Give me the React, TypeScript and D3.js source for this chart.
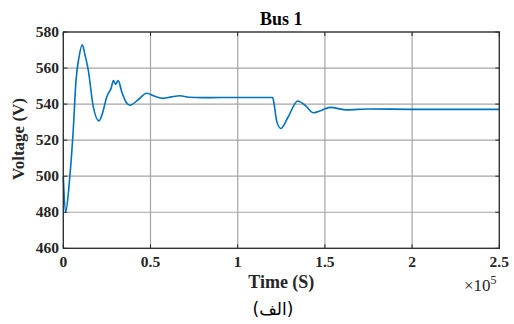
import React from "react";
import * as d3 from "d3";

// time in units of 1e5 s, voltage in V
const timeVals = [0, 0.013, 0.035, 0.057, 0.073, 0.09, 0.109, 0.125, 0.143, 0.172, 0.205, 0.225, 0.249, 0.275, 0.287, 0.3, 0.315, 0.335, 0.36, 0.382, 0.43, 0.478, 0.52, 0.573, 0.62, 0.669, 0.72, 0.8, 1.0, 1.2, 1.204, 1.225, 1.248, 1.29, 1.344, 1.39, 1.434, 1.48, 1.529, 1.625, 1.75, 2.0, 2.5];
const voltVals = [500, 480, 497, 525.6, 553.3, 566, 572.9, 567, 559, 538.5, 530.7, 535, 544, 549, 553, 551, 553, 546.8, 541, 539.4, 542.5, 546, 544.5, 543.2, 544, 544.6, 543.8, 543.6, 543.7, 543.7, 542.5, 530, 526.5, 533, 541.7, 539, 535.2, 536.5, 538.2, 536.8, 537.3, 537.1, 537.1];
const xTicks = [0, 0.5, 1, 1.5, 2, 2.5];
const yTicks = [460, 480, 500, 520, 540, 560, 580];

const W = 514;
const H = 324;
const m = { left: 63.3, right: 499.3, top: 32, bottom: 248.3 };

const App = () => {
  const x = d3.scaleLinear().domain([0, 2.5]).range([m.left, m.right]);
  const y = d3.scaleLinear().domain([460, 580]).range([m.bottom, m.top]);
  const pts = timeVals.map((t, i) => [t, voltVals[i]] as [number, number]);
  const line = d3
    .line<[number, number]>()
    .x((d) => x(d[0]))
    .y((d) => y(d[1]))
    .curve(d3.curveMonotoneX);

  const serif = "'Liberation Serif', 'Times New Roman', serif";
  const grid = "#a6a6a6";

  return (
    <svg width={W} height={H} style={{ position: "absolute", left: 0, top: 0 }}>
      <rect width={W} height={H} fill="#fff" />
      {xTicks.map((t) => (
        <line key={"gx" + t} x1={x(t)} x2={x(t)} y1={m.top} y2={m.bottom} stroke={grid} strokeWidth={1.2} />
      ))}
      {yTicks.map((t) => (
        <line key={"gy" + t} x1={m.left} x2={m.right} y1={y(t)} y2={y(t)} stroke={grid} strokeWidth={1.2} />
      ))}
      {/* inner ticks */}
      {xTicks.map((t) => (
        <g key={"tx" + t} stroke="#262626" strokeWidth={1}>
          <line x1={x(t)} x2={x(t)} y1={m.bottom} y2={m.bottom - 4} />
          <line x1={x(t)} x2={x(t)} y1={m.top} y2={m.top + 4} />
        </g>
      ))}
      {yTicks.map((t) => (
        <g key={"ty" + t} stroke="#262626" strokeWidth={1}>
          <line x1={m.left} x2={m.left + 4} y1={y(t)} y2={y(t)} />
          <line x1={m.right} x2={m.right - 4} y1={y(t)} y2={y(t)} />
        </g>
      ))}
      <path d={line(pts) || ""} fill="none" stroke="#0072BD" strokeWidth={1.6} />
      <rect x={m.left} y={m.top} width={m.right - m.left} height={m.bottom - m.top} fill="none" stroke="#262626" strokeWidth={1.2} />
      {xTicks.map((t) => (
        <text key={"lx" + t} x={x(t)} y={267} textAnchor="middle" fontFamily={serif} fontWeight="bold" fontSize={15.5} fill="#262626">
          {String(t)}
        </text>
      ))}
      {yTicks.map((t) => (
        <text key={"ly" + t} x={59} y={y(t) + 5} textAnchor="end" fontFamily={serif} fontWeight="bold" fontSize={15.5} fill="#262626">
          {t}
        </text>
      ))}
      <text x={(m.left + m.right) / 2} y={25} textAnchor="middle" fontFamily={serif} fontWeight="bold" fontSize={18} fill="#000">
        Bus 1
      </text>
      <text x={(m.left + m.right) / 2} y={288} textAnchor="middle" fontFamily={serif} fontWeight="bold" fontSize={18} fill="#262626">
        Time (S)
      </text>
      <text transform={`translate(24,139) rotate(-90)`} textAnchor="middle" fontFamily={serif} fontWeight="bold" fontSize={17} fill="#262626">
        Voltage (V)
      </text>
      <text x={464} y={291} fontFamily={serif} fontSize={17} fill="#262626">
        ×10
        <tspan dy={-7} fontSize={12}>5</tspan>
      </text>
      <text x={273} y={315} textAnchor="middle" fontFamily="'DejaVu Sans', sans-serif" fontSize={17} fill="#000">
        (الف)
      </text>
    </svg>
  );
};

export default App;
